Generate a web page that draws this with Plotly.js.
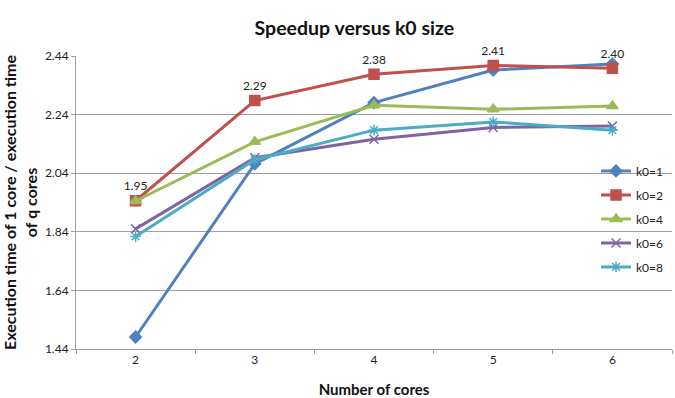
<!DOCTYPE html>
<html>
<head>
<meta charset="utf-8">
<script src="https://cdn.plot.ly/plotly-3.0.1.min.js"></script>
<style>html,body{margin:0;padding:0;background:#fff;}#chart{width:675px;height:398px;}</style>
</head>
<body>
<div id="chart"></div>
<script>
const cores = ['2', '3', '4', '5', '6'];
const k0_1 = [1.481, 2.072, 2.281, 2.392, 2.413];
const k0_2 = [1.946, 2.288, 2.378, 2.408, 2.398];
const k0_4 = [1.945, 2.147, 2.272, 2.258, 2.269];
const k0_6 = [1.850, 2.093, 2.156, 2.196, 2.201];
const k0_8 = [1.824, 2.086, 2.187, 2.215, 2.187];
const yTicks = [1.44, 1.64, 1.84, 2.04, 2.24, 2.44];

const FONT = 'Lato, "Open Sans", sans-serif';

function series(name, y, color, symbol, size, extra) {
  return Object.assign({
    type: 'scatter', mode: 'lines+markers', name: name, x: cores, y: y,
    legendgroup: name,
    line: {color: color, width: 3},
    marker: {color: color, symbol: symbol, size: size, line: {color: color, width: 1.5}},
    cliponaxis: false
  }, extra || {});
}

const traces = [
  series('k0=1', k0_1, '#4F81BD', 'diamond', 9),
  series('k0=2', k0_2, '#C0504D', 'square', 10, {
    mode: 'lines+markers+text',
    text: k0_2.map(v => v.toFixed(2)),
    textposition: 'top center',
    textfont: {family: FONT, size: 12, color: '#222'}
  }),
  series('k0=4', k0_4, '#9BBB59', 'triangle-up', 10),
  series('k0=6', k0_6, '#8064A2', 'x-thin-open', 9),
  series('k0=8', k0_8, '#4BACC6', 'asterisk-open', 9)
];

const layout = {
  width: 675, height: 398,
  margin: {l: 76, r: 3, t: 56, b: 49},
  paper_bgcolor: '#fff', plot_bgcolor: '#fff',
  font: {family: FONT, size: 12, color: '#222'},
  title: {
    text: '<b>Speedup versus k0 size</b>',
    font: {family: FONT, size: 19.5, color: '#111'},
    xref: 'container', x: 0.525, xanchor: 'center',
    yref: 'container', y: 0.93, yanchor: 'middle'
  },
  xaxis: {
    type: 'category', range: [-0.5, 4.5],
    showgrid: false, zeroline: false,
    showline: true, linecolor: '#a0a0a0', linewidth: 1,
    ticks: 'outside', tickson: 'boundaries', ticklen: 4, tickcolor: '#a0a0a0',
    tickfont: {family: FONT, size: 12, color: '#222'},
    title: {text: '<b>Number of cores</b>', font: {family: FONT, size: 15, color: '#111'}, standoff: 18}
  },
  yaxis: {
    range: [1.44, 2.44], tickvals: yTicks, ticktext: yTicks.map(v => v.toFixed(2)),
    showgrid: true, gridcolor: '#a0a0a0', gridwidth: 1, zeroline: false,
    showline: true, linecolor: '#a0a0a0', linewidth: 1,
    ticks: 'outside', ticklen: 4, tickcolor: '#a0a0a0',
    tickfont: {family: FONT, size: 12, color: '#222'},
    title: {text: '<b>Execution time of 1 core / execution time<br>of q cores</b>', font: {family: FONT, size: 16, color: '#111'}, standoff: 4}
  },
  showlegend: true,
  legend: {
    x: 0.995, xanchor: 'right', y: 0.444, yanchor: 'middle',
    bgcolor: 'rgba(0,0,0,0)',
    font: {family: FONT, size: 12, color: '#222'},
    tracegroupgap: 5, itemwidth: 30
  }
};

Plotly.newPlot('chart', traces, layout, {displayModeBar: false, staticPlot: true});
</script>
</body>
</html>
